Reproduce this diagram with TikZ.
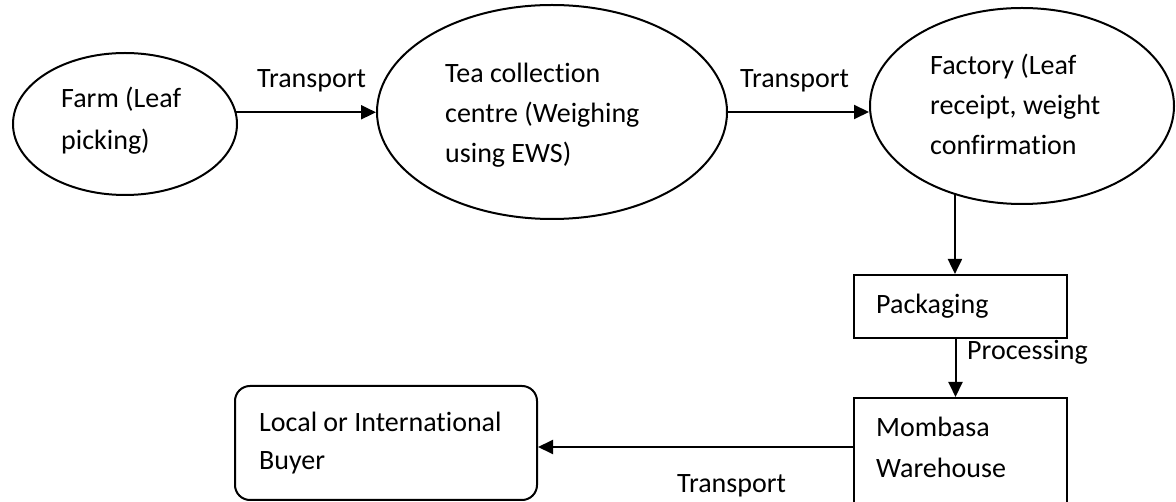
\documentclass[tikz,border=0pt]{standalone}
\usepackage{fontspec}
\setmainfont[Ligatures=NoCommon]{Carlito}
\usetikzlibrary{arrows.meta,calc,shapes.geometric}
\tikzset{
  shp/.style={draw=black, line width=2pt, inner sep=0pt},
  ell/.style={shp, ellipse},
  box/.style={shp, rectangle},
  txt/.style={inner sep=0pt, align=left, anchor=base west, font=\fontsize{28}{40}\selectfont},
  arr/.style={line width=2pt, -{Triangle[length=15pt,width=14pt]}}
}
\begin{document}
\begin{tikzpicture}[x=1pt,y=-1pt]
\useasboundingbox (0,0) rectangle (1176,502);
\clip (0,0) rectangle (1176,502);
% shapes
\node[ell, minimum width=224, minimum height=142] (farm) at (125,124) {};
\node[ell, minimum width=350, minimum height=214] (tea) at (552,112) {};
\node[ell, minimum width=304, minimum height=196] (factory) at (1022,106) {};
\node[box, minimum width=213, minimum height=63] (packaging) at (960.5,306.5) {};
\node[box, minimum width=213, minimum height=117] (mombasa) at (960.5,456.5) {};
\node[box, rounded corners=15pt, minimum width=302, minimum height=114] (buyer) at (386,443) {};
% texts (anchor = baseline of the last line)
\node[txt, font=\fontsize{28}{42}\selectfont] (farmtxt) at (61,150) {Farm (Leaf\\picking)};
\node[txt] (teatxt) at (445,163) {Tea collection\\centre (Weighing\\using EWS)};
\node[txt] (factorytxt) at (930,155) {Factory (Leaf\\receipt, weight\\confirmation};
\node[txt] (packtxt) at (876,314) {Packaging};
\node[txt, font=\fontsize{28}{41}\selectfont] (momtxt) at (876,478) {Mombasa\\Warehouse};
\node[txt, font=\fontsize{28}{38}\selectfont] (buyertxt) at (259,470) {Local or International\\Buyer};
% connectors
\draw[arr] (farm.6) -- (tea.west |- farm.6);
\draw[arr] (tea.east) -- (factory.west |- tea.east);
\draw[arr] (factory.233) -- (factory.233 |- packaging.north);
\draw[arr] ($(packaging.south)+(-5,0)$) -- ($(mombasa.north)+(-5,0)$);
\coordinate (mw) at ($(mombasa.west)+(0,-9.5)$);
\draw[arr] (mw) -- (buyer.east |- mw);
% connector labels
\node[txt] (t1) at (257,88) {Transport};
\node[txt] (t2) at (740,88) {Transport};
\node[txt] (proc) at (967,360) {Processing};
\node[txt] (t3) at (677,493) {Transport};
\end{tikzpicture}
\end{document}
